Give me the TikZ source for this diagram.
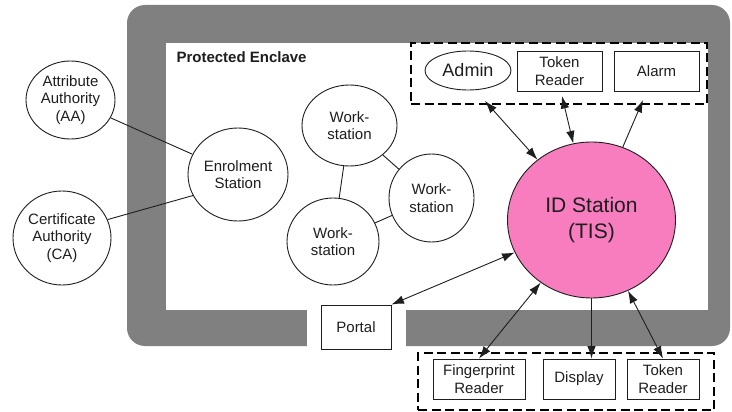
\documentclass[tikz,border=0pt]{standalone}
\usepackage{fontspec}
\setmainfont{Liberation Sans}
\usetikzlibrary{shapes.geometric,arrows.meta}
\definecolor{framegray}{RGB}{128,128,128}
\definecolor{idpink}{RGB}{247,125,190}
\definecolor{inkcol}{RGB}{30,30,30}
\begin{document}
\begin{tikzpicture}[x=1pt,y=-1pt,
  txt/.style={font=\fontsize{15}{17.5}\selectfont, align=center, text=inkcol},
  circ/.style={txt, ellipse, draw=inkcol, line width=0.9pt, fill=white, inner sep=0pt},
  box/.style={txt, rectangle, draw=inkcol, line width=0.9pt, fill=white, inner sep=0pt},
  grp/.style={rectangle, draw=black, line width=2.4pt, dash pattern=on 9pt off 4.5pt, inner sep=0pt},
  conn/.style={line width=0.9pt, draw=inkcol},
  arr/.style={conn, -{Latex[length=12.5pt,width=8.5pt]}},
  darr/.style={conn, {Latex[length=12.5pt,width=8.5pt]}-{Latex[length=12.5pt,width=8.5pt]}}
]
\useasboundingbox (0,0) rectangle (732,412);
\fill[white] (0,0) rectangle (732,412);

% protected enclave frame
\fill[framegray, rounded corners=18pt] (127,5) rectangle (730,346);
\fill[white] (166,43) rectangle (708,310);
\fill[white] (307,308) rectangle (406,348);

\node[anchor=west, font=\bfseries\fontsize{15}{18}\selectfont, text=inkcol] (title) at (173,57) {Protected Enclave};

% groups
\node[grp, minimum width=296pt, minimum height=61pt] (topgrp) at (559,73.5) {};
\node[grp, minimum width=296pt, minimum height=57pt] (botgrp) at (566,381.5) {};

% nodes
\node[circ, minimum width=89pt, minimum height=78pt] (aa) at (70.5,100) {Attribute\\Authority\\(AA)};
\node[circ, minimum width=98pt, minimum height=94pt] (ca) at (62,238) {Certificate\\Authority\\(CA)};
\node[circ, minimum width=100pt, minimum height=93pt] (es) at (238,174.5) {Enrolment\\Station};
\node[circ, minimum width=95pt, minimum height=81pt] (ws1) at (349.5,125.5) {Work-\\station};
\node[circ, minimum width=85pt, minimum height=88pt] (ws2) at (431.5,198) {Work-\\station};
\node[circ, minimum width=92pt, minimum height=87pt] (ws3) at (333,241.5) {Work-\\station};
\node[circ, fill=idpink, minimum width=168pt, minimum height=156pt,
      font=\fontsize{21}{26}\selectfont] (id) at (591.5,220) {ID Station\\(TIS)};

\node[circ, minimum width=86pt, minimum height=39pt, font=\fontsize{18}{20}\selectfont] (admin) at (468,70.5) {Admin};
\node[box, minimum width=85pt, minimum height=40pt] (tok1) at (559.5,71) {Token\\Reader};
\node[box, minimum width=85pt, minimum height=40pt] (alarm) at (656.5,71) {Alarm};

\node[box, minimum width=70pt, minimum height=44pt] (portal) at (356,327) {Portal};
\node[box, minimum width=92pt, minimum height=40pt] (fp) at (479,379) {Fingerprint\\Reader};
\node[box, minimum width=72pt, minimum height=40pt] (disp) at (579,379) {Display};
\node[box, minimum width=72pt, minimum height=40pt] (tok2) at (663,379) {Token\\Reader};

% connectors
\draw[conn] (aa) -- (es);
\draw[conn] (ca.22) -- (es.205);
\draw[conn] (ws1) -- (ws3);
\draw[conn] (ws1) -- (ws2);
\draw[conn] (ws2) -- (ws3);

\coordinate (cadm) at (485,101);
\coordinate (ctok) at (562,96);
\coordinate (calm) at (643,100);
\draw[darr] (cadm) -- (id);
\draw[darr] (ctok) -- (id);
\draw[arr] (id) -- (calm);

\draw[darr] (id) -- (portal.north east);
\draw[darr] (id) -- (fp.north);
\draw[arr] (id.south) -- (id.south |- disp.north);
\draw[darr] (id) -- (tok2.north);
\end{tikzpicture}
\end{document}
